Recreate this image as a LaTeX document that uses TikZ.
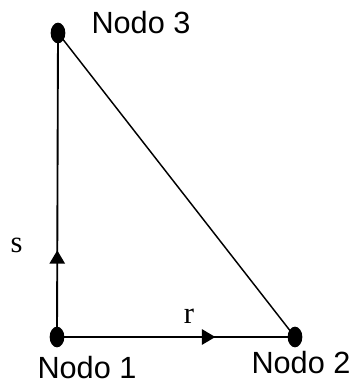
\documentclass[tikz,border=0pt]{standalone}
\usepackage{fontspec}
\setmainfont{Liberation Serif}
\newfontfamily\arialfont{Liberation Sans}
\usetikzlibrary{shapes.geometric,arrows.meta,decorations.markings}
\begin{document}
\begin{tikzpicture}[x=0.75pt,y=-0.75pt,
  dot/.style={ellipse,fill=black,inner sep=0pt,minimum width=11pt,minimum height=15.5pt},
  lbl/.style={font=\arialfont\fontsize{23}{26}\selectfont,anchor=base,inner sep=0pt},
  var/.style={font=\fontsize{23}{26}\selectfont,anchor=base,inner sep=0pt},
  edge/.style={line width=1.4pt},
  midarrow/.style={postaction={decorate},decoration={markings,mark=at position #1 with {\arrow{Triangle[width=11.5pt,length=10pt]}}}}]
\useasboundingbox (0,0) rectangle (353,383);
\node[dot] (n3) at (58,33) {};
\node[dot] (n1) at (57,337) {};
\node[dot] (n2) at (295,337) {};
\node[lbl] (t3) at (141,33) {Nodo 3};
\node[lbl] (t1) at (87,378.5) {Nodo 1};
\node[lbl] (t2) at (301,373) {Nodo 2};
\node[var] (s) at (16.5,252) {s};
\node[var] (r) at (189,323) {r};
\draw[edge,midarrow=0.285] (n1.center) -- (n3.center);
\draw[edge,midarrow=0.665] (n1.center) -- (n2.center);
\draw[line width=1.1pt] (n3.center) -- (n2.center);
\end{tikzpicture}
\end{document}
